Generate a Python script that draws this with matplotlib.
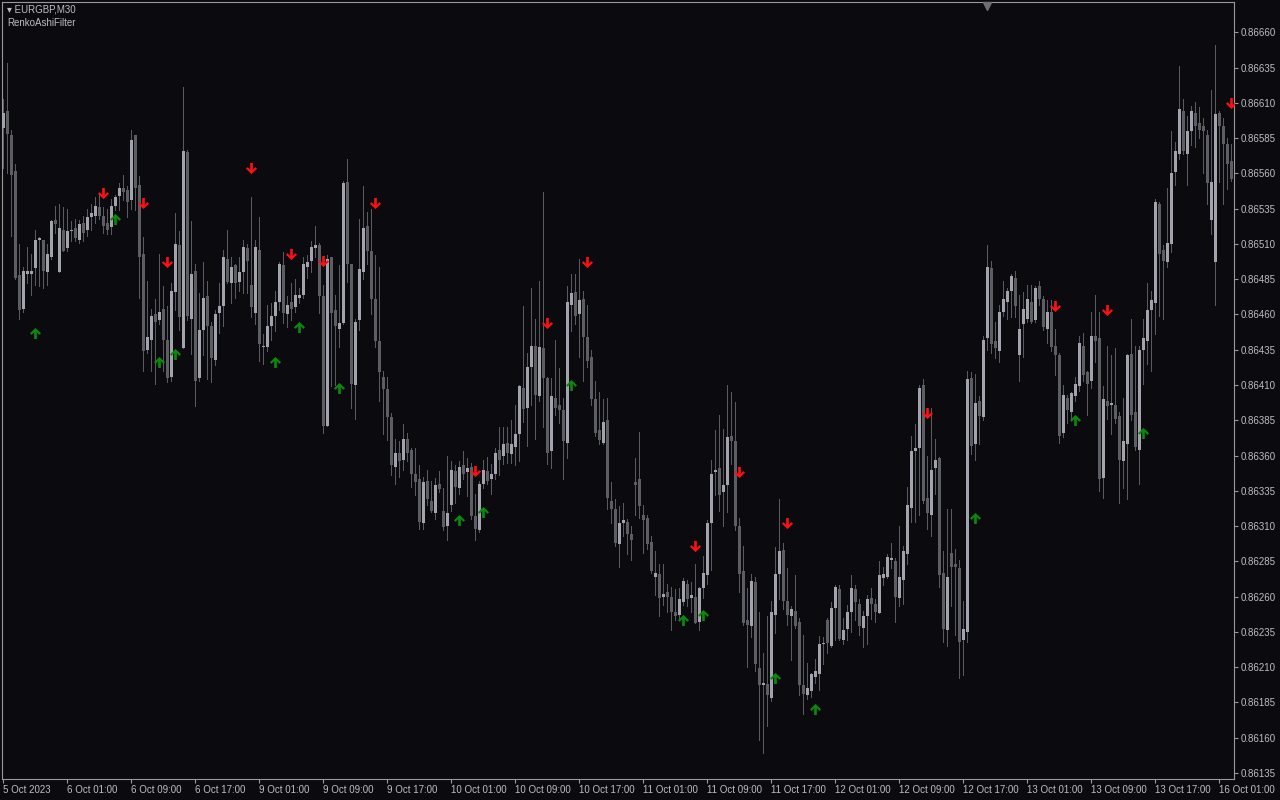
import numpy as np
import matplotlib
matplotlib.use("Agg")
import matplotlib.pyplot as plt
from matplotlib.path import Path

# -------------------- DATA (prices in points, 1 point = 0.00001) --------------------
opens = [
    86592, 86604, 86587, 86562, 86488, 86464, 86489, 86489, 86493, 86513,
    86513, 86490, 86501, 86527, 86490, 86520, 86507, 86519, 86521, 86513,
    86525, 86520, 86529, 86530, 86536, 86530, 86525, 86522, 86537, 86544,
    86550, 86548, 86541, 86587, 86552, 86503, 86435, 86442, 86460, 86456,
    86464, 86442, 86416, 86476, 86509, 86436, 86575, 86457, 86491, 86415,
    86449, 86473, 86452, 86428, 86461, 86466, 86499, 86482, 86495, 86483,
    86490, 86507, 86481, 86461, 86506, 86437, 86437, 86452, 86459, 86469,
    86495, 86460, 86469, 86465, 86472, 86474, 86494, 86498, 86507, 86509,
    86473, 86381, 86501, 86463, 86450, 86454, 86554, 86496, 86410, 86456,
    86490, 86523, 86505, 86471, 86441, 86416, 86407, 86387, 86352, 86362,
    86357, 86372, 86364, 86347, 86343, 86312, 86342, 86328, 86319, 86340,
    86321, 86310, 86325, 86349, 86337, 86353, 86348, 86352, 86317, 86307,
    86340, 86349, 86343, 86347, 86364, 86360, 86369, 86361, 86366, 86375,
    86408, 86394, 86423, 86438, 86402, 86436, 86415, 86363, 86401, 86396,
    86392, 86369, 86467, 86476, 86460, 86471, 86444, 86430, 86400, 86378,
    86369, 86385, 86328, 86322, 86297, 86312, 86313, 86304, 86341, 86343,
    86318, 86316, 86299, 86274, 86276, 86260, 86263, 86260, 86249, 86247,
    86256, 86269, 86259, 86260, 86242, 86266, 86275, 86312, 86348, 86351,
    86334, 86339, 86374, 86370, 86310, 86278, 86243, 86239, 86270, 86209,
    86197, 86198, 86188, 86247, 86276, 86293, 86257, 86246, 86250, 86242,
    86197, 86190, 86193, 86203, 86205, 86226, 86243, 86225, 86252, 86265,
    86229, 86237, 86249, 86265, 86255, 86238, 86246, 86259, 86255, 86248,
    86273, 86274, 86286, 86285, 86259, 86272, 86290, 86323, 86363, 86365,
    86410, 86330, 86318, 86351, 86358, 86277, 86236, 86291, 86283, 86280,
    86229, 86235, 86415, 86368, 86399, 86387, 86443, 86493, 86441, 86434,
    86462, 86469, 86477, 86486, 86431, 86453, 86457, 86469, 86456, 86480,
    86471, 86450, 86462, 86438, 86431, 86376, 86401, 86391, 86402, 86409,
    86438, 86419, 86413, 86445, 86443, 86344, 86399, 86396, 86396, 86388,
    86356, 86368, 86432, 86391, 86364, 86435, 86441, 86463, 86468, 86538,
    86506, 86497, 86510, 86561, 86574, 86604, 86574, 86590, 86603, 86596,
    86594, 86587, 86527, 86497, 86603, 86594, 86581, 86569,
]
highs = [
    86613, 86638, 86591, 86567, 86510, 86494, 86508, 86503, 86520, 86515,
    86513, 86510, 86527, 86537, 86538, 86536, 86535, 86526, 86528, 86527,
    86530, 86535, 86538, 86543, 86546, 86536, 86535, 86542, 86545, 86553,
    86559, 86551, 86591, 86587, 86558, 86515, 86484, 86464, 86471, 86503,
    86480, 86466, 86482, 86532, 86519, 86621, 86577, 86526, 86496, 86475,
    86497, 86484, 86455, 86463, 86482, 86506, 86520, 86501, 86496, 86501,
    86513, 86510, 86543, 86513, 86529, 86446, 86467, 86468, 86477, 86497,
    86504, 86473, 86482, 86485, 86479, 86501, 86502, 86512, 86523, 86511,
    86481, 86502, 86501, 86474, 86495, 86555, 86570, 86496, 86457, 86528,
    86551, 86533, 86535, 86502, 86494, 86420, 86416, 86390, 86372, 86370,
    86382, 86376, 86365, 86365, 86353, 86345, 86350, 86342, 86344, 86349,
    86337, 86360, 86356, 86353, 86356, 86363, 86358, 86355, 86333, 86342,
    86357, 86359, 86354, 86365, 86380, 86380, 86380, 86385, 86396, 86410,
    86466, 86433, 86479, 86457, 86484, 86547, 86416, 86415, 86442, 86422,
    86401, 86480, 86489, 86489, 86499, 86477, 86467, 86435, 86413, 86405,
    86400, 86401, 86341, 86329, 86324, 86326, 86315, 86310, 86358, 86377,
    86325, 86318, 86303, 86292, 86283, 86283, 86269, 86267, 86265, 86266,
    86273, 86272, 86270, 86283, 86267, 86289, 86314, 86357, 86378, 86389,
    86379, 86410, 86405, 86398, 86316, 86296, 86266, 86276, 86274, 86249,
    86220, 86246, 86257, 86295, 86329, 86298, 86280, 86253, 86275, 86245,
    86233, 86213, 86206, 86216, 86232, 86231, 86245, 86256, 86268, 86268,
    86245, 86254, 86275, 86268, 86258, 86250, 86261, 86266, 86258, 86285,
    86281, 86290, 86298, 86287, 86310, 86296, 86338, 86374, 86382, 86410,
    86414, 86360, 86394, 86372, 86359, 86292, 86322, 86322, 86294, 86286,
    86257, 86420, 86419, 86418, 86402, 86445, 86509, 86498, 86455, 86467,
    86484, 86479, 86489, 86491, 86474, 86476, 86481, 86481, 86480, 86484,
    86473, 86470, 86470, 86450, 86433, 86410, 86403, 86405, 86416, 86445,
    86447, 86420, 86462, 86474, 86462, 86409, 86438, 86431, 86436, 86391,
    86401, 86432, 86457, 86438, 86438, 86457, 86482, 86477, 86542, 86540,
    86509, 86550, 86590, 86582, 86636, 86613, 86601, 86608, 86611, 86607,
    86599, 86591, 86619, 86651, 86604, 86599, 86585, 86581,
]
lows = [
    86564, 86560, 86516, 86485, 86457, 86462, 86482, 86474, 86481, 86480,
    86479, 86481, 86499, 86518, 86490, 86505, 86505, 86512, 86512, 86511,
    86512, 86516, 86520, 86525, 86528, 86518, 86517, 86517, 86534, 86534,
    86541, 86529, 86535, 86534, 86472, 86420, 86433, 86420, 86411, 86453,
    86420, 86412, 86413, 86463, 86449, 86436, 86456, 86432, 86395, 86413,
    86431, 86414, 86412, 86424, 86447, 86452, 86482, 86468, 86472, 86477,
    86475, 86475, 86458, 86453, 86427, 86425, 86434, 86442, 86448, 86463,
    86454, 86451, 86456, 86462, 86468, 86472, 86486, 86490, 86501, 86461,
    86376, 86381, 86409, 86410, 86437, 86453, 86483, 86394, 86386, 86449,
    86485, 86496, 86460, 86437, 86399, 86375, 86371, 86346, 86340, 86345,
    86350, 86356, 86338, 86332, 86308, 86308, 86325, 86320, 86315, 86334,
    86307, 86300, 86321, 86326, 86333, 86343, 86331, 86315, 86300, 86306,
    86337, 86340, 86333, 86343, 86346, 86354, 86355, 86355, 86353, 86356,
    86384, 86367, 86396, 86372, 86399, 86380, 86354, 86351, 86389, 86383,
    86343, 86358, 86448, 86453, 86430, 86413, 86423, 86396, 86374, 86368,
    86368, 86322, 86312, 86296, 86281, 86303, 86290, 86286, 86318, 86316,
    86291, 86294, 86277, 86261, 86246, 86254, 86249, 86236, 86243, 86244,
    86254, 86253, 86249, 86241, 86236, 86259, 86269, 86279, 86332, 86321,
    86310, 86320, 86354, 86307, 86263, 86240, 86210, 86231, 86207, 86158,
    86149, 86168, 86186, 86234, 86258, 86251, 86240, 86215, 86238, 86190,
    86177, 86187, 86189, 86199, 86194, 86212, 86220, 86224, 86229, 86229,
    86226, 86229, 86235, 86243, 86233, 86224, 86226, 86244, 86242, 86248,
    86268, 86273, 86280, 86242, 86253, 86255, 86283, 86313, 86313, 86318,
    86326, 86308, 86303, 86333, 86267, 86228, 86225, 86253, 86233, 86202,
    86204, 86228, 86361, 86357, 86368, 86385, 86435, 86433, 86429, 86426,
    86459, 86457, 86458, 86458, 86413, 86430, 86455, 86454, 86455, 86467,
    86449, 86440, 86434, 86417, 86369, 86373, 86383, 86386, 86399, 86406,
    86413, 86389, 86408, 86426, 86335, 86330, 86386, 86375, 86383, 86326,
    86337, 86329, 86385, 86364, 86340, 86411, 86425, 86420, 86446, 86459,
    86457, 86494, 86504, 86552, 86570, 86574, 86552, 86580, 86579, 86585,
    86560, 86538, 86517, 86467, 86554, 86538, 86549, 86555,
]
closes = [
    86603, 86588, 86559, 86486, 86463, 86491, 86491, 86491, 86513, 86514,
    86491, 86503, 86526, 86524, 86521, 86505, 86519, 86520, 86514, 86524,
    86518, 86529, 86532, 86537, 86530, 86523, 86520, 86537, 86543, 86550,
    86547, 86540, 86584, 86550, 86501, 86434, 86444, 86459, 86455, 86462,
    86442, 86415, 86477, 86510, 86458, 86576, 86459, 86489, 86413, 86449,
    86472, 86452, 86429, 86460, 86466, 86501, 86483, 86494, 86482, 86490,
    86508, 86498, 86465, 86508, 86439, 86438, 86452, 86459, 86469, 86496,
    86461, 86467, 86464, 86474, 86474, 86496, 86497, 86508, 86509, 86473,
    86381, 86499, 86461, 86452, 86454, 86553, 86496, 86411, 86455, 86492,
    86521, 86505, 86471, 86441, 86419, 86407, 86387, 86353, 86362, 86356,
    86372, 86362, 86347, 86341, 86313, 86341, 86329, 86321, 86339, 86336,
    86309, 86319, 86350, 86338, 86352, 86347, 86351, 86317, 86308, 86340,
    86350, 86342, 86347, 86362, 86357, 86368, 86362, 86368, 86375, 86409,
    86393, 86423, 86438, 86403, 86437, 86415, 86362, 86402, 86394, 86392,
    86370, 86469, 86475, 86459, 86470, 86444, 86427, 86400, 86376, 86371,
    86384, 86330, 86322, 86298, 86312, 86314, 86304, 86300, 86339, 86324,
    86314, 86297, 86278, 86277, 86259, 86262, 86260, 86249, 86246, 86258,
    86271, 86258, 86261, 86241, 86266, 86277, 86312, 86347, 86350, 86332,
    86339, 86373, 86370, 86310, 86276, 86241, 86240, 86271, 86212, 86197,
    86199, 86190, 86249, 86276, 86292, 86257, 86247, 86251, 86239, 86197,
    86191, 86195, 86205, 86207, 86226, 86227, 86227, 86252, 86267, 86230,
    86236, 86249, 86266, 86256, 86239, 86246, 86258, 86255, 86249, 86275,
    86276, 86288, 86287, 86260, 86274, 86292, 86325, 86363, 86365, 86408,
    86328, 86319, 86350, 86357, 86275, 86237, 86274, 86281, 86281, 86228,
    86237, 86414, 86367, 86397, 86388, 86442, 86494, 86439, 86436, 86462,
    86471, 86477, 86487, 86466, 86450, 86464, 86471, 86455, 86479, 86471,
    86451, 86462, 86437, 86431, 86374, 86403, 86392, 86404, 86411, 86440,
    86417, 86411, 86445, 86441, 86343, 86400, 86395, 86397, 86386, 86357,
    86370, 86431, 86389, 86366, 86435, 86443, 86463, 86470, 86540, 86503,
    86498, 86511, 86560, 86576, 86606, 86576, 86590, 86604, 86594, 86591,
    86590, 86553, 86554, 86602, 86594, 86581, 86567, 86556,
]

# RenkoAshiFilter signals: bar index and price where the arrow sits
sell_bars = [25, 35, 41, 62, 72, 80, 93, 118, 136, 146, 173, 184, 196, 231, 263, 276, 307]
sell_prices = [86546, 86539, 86497, 86564, 86503, 86498, 86539, 86349, 86454, 86497,
               86296, 86348, 86312, 86390, 86466, 86463, 86610]
buy_bars = [8, 28, 39, 43, 68, 74, 84, 114, 120, 142, 170, 175, 193, 203, 243, 268, 285]
buy_prices = [86447, 86528, 86426, 86432, 86426, 86451, 86408, 86314, 86320, 86410,
              86243, 86247, 86202, 86180, 86316, 86385, 86376]

time_labels = ["5 Oct 2023", "6 Oct 01:00", "6 Oct 09:00", "6 Oct 17:00", "9 Oct 01:00",
               "9 Oct 09:00", "9 Oct 17:00", "10 Oct 01:00", "10 Oct 09:00", "10 Oct 17:00",
               "11 Oct 01:00", "11 Oct 09:00", "11 Oct 17:00", "12 Oct 01:00", "12 Oct 09:00",
               "12 Oct 17:00", "13 Oct 01:00", "13 Oct 09:00", "13 Oct 17:00", "16 Oct 01:00"]
price_ticks = [0.86660 - 0.00025 * k for k in range(22)]

# -------------------- COLOURS --------------------
BG = "#0a0a0f"
BULL = "#a3a3ad"
BEAR = "#5d5d64"
WICK = "#5a5a61"
FRAME = "#9a9a9a"
TEXT = "#bdbdc4"

o = np.array(opens) / 1e5
h = np.array(highs) / 1e5
l = np.array(lows) / 1e5
c = np.array(closes) / 1e5
x = np.arange(len(o))

W, H = 1280, 800
fig = plt.figure(figsize=(12.8, 8), dpi=100, facecolor=BG)
ax = fig.add_axes([2 / W, 1 - 779 / H, 1232 / W, 777 / H], facecolor=BG)
ax.set_xlim(-0.325, 307.675)
ax.set_ylim(0.861306, 0.866816)

# -------------------- CANDLES --------------------
ax.vlines(x, l, h, color=WICK, lw=0.5, antialiased=False, zorder=2)
bull = c >= o
bottom = np.minimum(o, c)
height = np.maximum(np.abs(c - o), 0.000006)
ax.bar(x, height, bottom=bottom, width=0.75, color=np.where(bull, BULL, BEAR),
       linewidth=0, antialiased=False, zorder=3)

# -------------------- ARROWS --------------------
dn = Path([(-0.12, 0.5), (0.12, 0.5), (0.12, -0.12), (0.36, 0.12), (0.5, -0.02),
           (0, -0.5), (-0.5, -0.02), (-0.36, 0.12), (-0.12, -0.12), (-0.12, 0.5)])
up = Path([(px, -py) for px, py in dn.vertices])
ax.plot(sell_bars, np.array(sell_prices) / 1e5, ls="none", marker=dn, ms=8,
        color="#ff1010", mec="none", zorder=4)
ax.plot(buy_bars, np.array(buy_prices) / 1e5, ls="none", marker=up, ms=8,
        color="#0a8a0a", mec="none", zorder=4)

# -------------------- AXES --------------------
for s in ax.spines.values():
    s.set_color(FRAME)
    s.set_linewidth(0.8)

ax.yaxis.tick_right()
ax.set_yticks(price_ticks)
ax.set_yticklabels([f"{p:.5f}" for p in price_ticks])
ax.tick_params(axis="y", colors=FRAME, length=3, width=0.8, pad=2,
               labelsize=7, labelcolor=TEXT)
ax.set_xticks(range(0, 16 * len(time_labels), 16))
ax.set_xticklabels(time_labels)
ax.tick_params(axis="x", colors=FRAME, length=3, width=0.8, pad=1,
               labelsize=7, labelcolor=TEXT)
for t in ax.get_xticklabels():
    t.set_horizontalalignment("left")
for t in ax.get_xticklabels() + ax.get_yticklabels():
    t.set_fontfamily(["Liberation Sans", "DejaVu Sans"])

# chart shift marker
ax.plot(0.7995, 0.995, marker="v", ms=6, color="#6e6e74", transform=ax.transAxes,
        clip_on=False, zorder=5)

# -------------------- HEADER --------------------
fig.text(7 / W, 1 - 10 / H, "▾ EURGBP,M30", color=TEXT, fontsize=7, va="center",
         family=["Liberation Sans", "DejaVu Sans"])
fig.text(7 / W, 1 - 23 / H, "RenkoAshiFilter", color=TEXT, fontsize=7, va="center",
         family=["Liberation Sans", "DejaVu Sans"])

fig.savefig("out.png", dpi=100, facecolor=BG)
